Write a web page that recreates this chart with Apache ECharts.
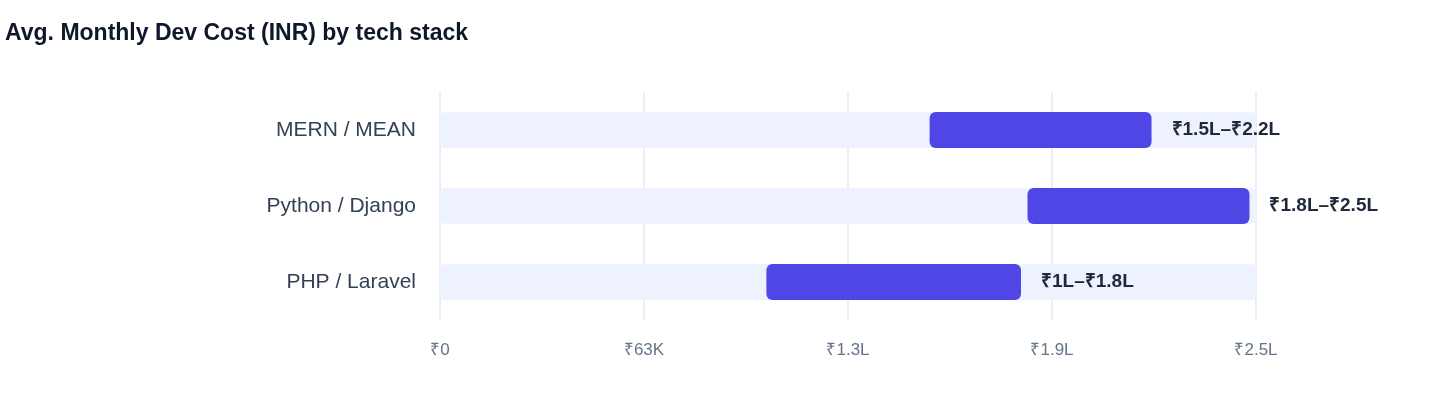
<!DOCTYPE html>
<html><head><meta charset="utf-8">
<script src="https://cdn.jsdelivr.net/npm/echarts@6/dist/echarts.min.js"></script>
<style>html,body{margin:0;padding:0;background:#fff}#c{width:1440px;height:408px}</style>
</head><body><div id="c"></div>
<script>
const categories = ["MERN / MEAN", "Python / Django", "PHP / Laravel"];
const lowValues = [150000, 180000, 100000];
const highValues = [218000, 248000, 178000];
const rangeLabels = ["₹1.5L–₹2.2L", "₹1.8L–₹2.5L", "₹1L–₹1.8L"];
const axisMax = 250000;
const tickLabels = {0:"₹0",62500:"₹63K",125000:"₹1.3L",187500:"₹1.9L",250000:"₹2.5L"};
const F = "Liberation Sans, Arial, sans-serif";

const chart = echarts.init(document.getElementById('c'));
chart.setOption({
  animation:false,
  title:{text:"Avg. Monthly Dev Cost (INR) by tech stack",left:0,top:17,
    textStyle:{fontFamily:F,fontSize:23,fontWeight:"bold",color:"#0f172a"}},
  grid:{left:440,right:184,top:92,bottom:88},
  xAxis:{type:"value",min:0,max:axisMax,interval:62500,
    axisLine:{show:false},axisTick:{show:false},
    splitLine:{lineStyle:{color:"#e2e8f0",width:1.5}},
    axisLabel:{formatter:v=>tickLabels[v]||"",color:"#64748b",fontFamily:F,fontSize:17,margin:22}},
  yAxis:{type:"category",data:categories,inverse:true,
    axisLine:{show:false},axisTick:{show:false},
    axisLabel:{color:"#334155",fontFamily:F,fontSize:21,margin:24}},
  series:[
    {type:"bar",data:categories.map(()=>axisMax),barWidth:36,silent:true,z:1,
      itemStyle:{color:"#eef2ff",borderRadius:6}},
    {type:"bar",stack:"r",data:lowValues,barWidth:36,barGap:"-100%",z:2,
      itemStyle:{color:"transparent"}},
    {type:"bar",stack:"r",data:highValues.map((h,i)=>h-lowValues[i]),barWidth:36,z:3,
      itemStyle:{color:"#5046e5",borderRadius:6},
      label:{show:true,position:"right",distance:20,formatter:p=>rangeLabels[p.dataIndex],
        color:"#1e293b",fontFamily:F,fontSize:19,fontWeight:"bold"}}
  ]
});
</script></body></html>
